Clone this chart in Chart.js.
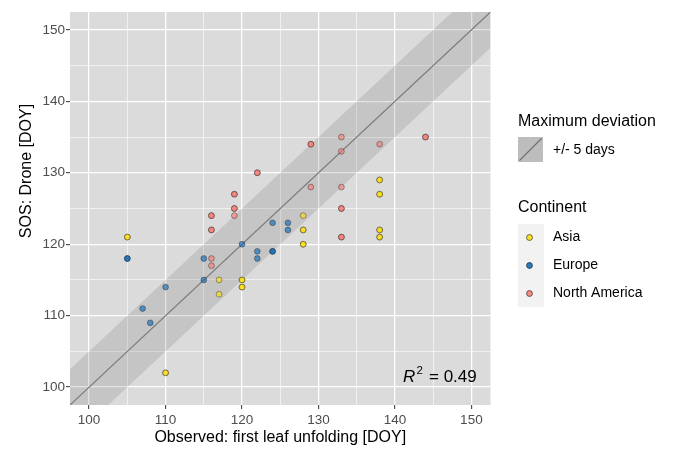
<!DOCTYPE html>
<html><head><meta charset="utf-8">
<script src="https://cdn.jsdelivr.net/npm/chart.js@4.4.1/dist/chart.umd.min.js"></script>
<style>html,body{margin:0;padding:0;background:#fff;}#wrap{position:relative;width:686px;height:449px;}</style>
</head><body><div id="wrap"><canvas id="c" width="686" height="449"></canvas></div>
<script>
// ---- data ----
const axisMin = 97.5, axisMax = 152.5;
const majorTicks = [100, 110, 120, 130, 140, 150];
const minorTicks = [105, 115, 125, 135, 145];
const deviationDays = 5;
const r2Text = "0.49";
const xTitle = "Observed: first leaf unfolding [DOY]";
const yTitle = "SOS: Drone [DOY]";

// Asia: observed DOY, drone SOS, number of overlapping observations
const asiaObs = [105, 110, 117, 117, 120, 120, 128, 128, 128, 138, 138, 138, 138];
const asiaSos = [121, 102, 115, 113, 115, 114, 124, 122, 120, 129, 127, 122, 121];
const asiaN   = [2, 2, 1, 1, 2, 2, 1, 2, 2, 2, 2, 2, 2];
// Europe
const euObs = [105, 107, 108, 110, 115, 115, 120, 122, 122, 124, 124, 126, 126];
const euSos = [118, 111, 109, 114, 118, 115, 120, 119, 118, 123, 119, 123, 122];
const euN   = [2, 1, 1, 1, 1, 1, 1, 1, 1, 1, 2, 1, 1];
// North America
const naObs = [116, 116, 116, 116, 119, 119, 119, 122, 129, 129, 133, 133, 133, 133, 133, 138, 144];
const naSos = [124, 122, 118, 117, 127, 125, 124, 130, 134, 128, 135, 133, 128, 125, 121, 134, 135];
const naN   = [2, 2, 1, 1, 2, 2, 1, 2, 2, 1, 1, 1, 1, 2, 2, 1, 2];

const continents = ["Asia", "Europe", "North America"];
const contColors = ["rgba(255,222,0,0.6)", "rgba(0,100,182,0.6)", "rgba(248,118,109,0.6)"];

function expand(xs, ys, ns) {
  const out = [];
  xs.forEach((x, i) => { for (let k = 0; k < ns[i]; k++) out.push({x: x, y: ys[i]}); });
  return out;
}

const FONT = "'Liberation Sans', Arial, sans-serif";
const allTicks = majorTicks.concat(minorTicks).sort((a, b) => a - b);
const isMajor = v => majorTicks.includes(v);

function pointSet(label, data, color) {
  return {
    type: 'scatter', label: label, data: data, order: 0,
    backgroundColor: color, borderColor: 'rgba(35,35,35,0.6)', borderWidth: 0.7,
    pointRadius: 2.9, pointHoverRadius: 2.9
  };
}

const datasets = [
  pointSet(continents[0], expand(asiaObs, asiaSos, asiaN), contColors[0]),
  pointSet(continents[1], expand(euObs, euSos, euN), contColors[1]),
  pointSet(continents[2], expand(naObs, naSos, naN), contColors[2]),
  { type: 'line', label: 'identity', order: 1,
    data: [{x: axisMin, y: axisMin}, {x: axisMax, y: axisMax}],
    borderColor: '#7a7a7a', borderWidth: 1.2, pointRadius: 0, fill: false },
  { type: 'line', label: 'lower', order: 2,
    data: [{x: axisMin, y: axisMin - deviationDays}, {x: axisMax, y: axisMax - deviationDays}],
    borderWidth: 0, borderColor: 'rgba(0,0,0,0)', pointRadius: 0, fill: false },
  { type: 'line', label: 'upper', order: 2,
    data: [{x: axisMin, y: axisMin + deviationDays}, {x: axisMax, y: axisMax + deviationDays}],
    borderWidth: 0, borderColor: 'rgba(0,0,0,0)', pointRadius: 0,
    fill: '-1', backgroundColor: 'rgba(110,110,110,0.2)' }
];

function axisCfg(isX) {
  return {
    type: 'linear', min: axisMin, max: axisMax,
    afterBuildTicks: s => { s.ticks = allTicks.map(v => ({value: v})); },
    afterFit: s => { if (isX) s.height = 44; else s.width = 70; },
    border: { display: false },
    grid: {
      color: '#ffffff',
      lineWidth: c => (c.tick && isMajor(c.tick.value)) ? 1.3 : 0.6,
      tickColor: c => (c.tick && isMajor(c.tick.value)) ? '#333333' : 'rgba(0,0,0,0)',
      tickLength: 4, tickWidth: 1
    },
    ticks: {
      autoSkip: false, maxRotation: 0, minRotation: 0,
      padding: isX ? 3 : 1,
      color: '#4D4D4D', font: { family: FONT, size: 13.5 },
      callback: v => isMajor(v) ? String(v) : ''
    },
    title: isX ? { display: true, text: xTitle, color: '#000', font: { family: FONT, size: 16 }, padding: { top: 0, bottom: 2 } }
               : { display: false }
  };
}

const extras = {
  id: 'extras',
  beforeDraw(chart) {
    const {ctx, chartArea: a} = chart;
    ctx.save();
    ctx.fillStyle = '#DBDBDB';
    ctx.fillRect(a.left, a.top, a.right - a.left, a.bottom - a.top);
    ctx.restore();
  },
  afterDraw(chart) {
    const ctx = chart.ctx;
    ctx.save();
    // y title
    ctx.translate(31, 171);
    ctx.rotate(-Math.PI / 2);
    ctx.fillStyle = '#000';
    ctx.font = '16px ' + FONT;
    ctx.textAlign = 'center';
    ctx.textBaseline = 'alphabetic';
    ctx.fillText(yTitle, 0, 0);
    ctx.restore();

    // R^2 annotation
    ctx.save();
    ctx.fillStyle = '#000';
    ctx.textBaseline = 'alphabetic';
    ctx.textAlign = 'left';
    ctx.font = 'italic 17px ' + FONT;
    ctx.fillText('R', 403, 382);
    ctx.font = '11.5px ' + FONT;
    ctx.fillText('2', 416.5, 374);
    ctx.font = '17px ' + FONT;
    ctx.fillText('= 0.49'.replace('0.49', r2Text), 429, 382);
    ctx.restore();

    // legend: Maximum deviation
    ctx.save();
    ctx.fillStyle = '#000';
    ctx.textAlign = 'left';
    ctx.textBaseline = 'alphabetic';
    ctx.font = '16px ' + FONT;
    ctx.fillText('Maximum deviation', 518, 126);
    ctx.fillStyle = '#F2F2F2';
    ctx.fillRect(518, 137, 25, 25);
    ctx.fillStyle = 'rgba(110,110,110,0.4)';
    ctx.fillRect(518, 137, 25, 25);
    ctx.strokeStyle = '#6e6e6e';
    ctx.lineWidth = 1.1;
    ctx.beginPath(); ctx.moveTo(519.5, 160.5); ctx.lineTo(541.5, 138.5); ctx.stroke();
    ctx.fillStyle = '#000';
    ctx.font = '14px ' + FONT;
    ctx.textBaseline = 'middle';
    ctx.fillText('+/- ' + deviationDays + ' days', 553, 150);

    // legend: Continent
    ctx.textBaseline = 'alphabetic';
    ctx.font = '16px ' + FONT;
    ctx.fillText('Continent', 518, 212);
    ctx.fillStyle = '#F2F2F2';
    ctx.fillRect(518, 224, 26, 83);
    const ys = [237.5, 265.5, 293.5];
    continents.forEach((name, i) => {
      for (let k = 0; k < 2; k++) {
        ctx.beginPath();
        ctx.arc(529.5, ys[i], 2.9, 0, Math.PI * 2);
        ctx.fillStyle = contColors[i];
        ctx.fill();
        ctx.strokeStyle = 'rgba(35,35,35,0.6)';
        ctx.lineWidth = 0.7;
        ctx.stroke();
      }
      ctx.fillStyle = '#000';
      ctx.font = '14px ' + FONT;
      ctx.textBaseline = 'middle';
      ctx.fillText(name, 553, ys[i]);
    });
    ctx.restore();
  }
};

new Chart(document.getElementById('c'), {
  type: 'scatter',
  data: { datasets: datasets },
  options: {
    responsive: false, devicePixelRatio: 1, animation: false, events: [],
    layout: { padding: { left: 0, right: 195.5, top: 12, bottom: 0 } },
    plugins: { legend: { display: false }, tooltip: { enabled: false } },
    scales: { x: axisCfg(true), y: axisCfg(false) }
  },
  plugins: [extras]
});
</script>
</body></html>
